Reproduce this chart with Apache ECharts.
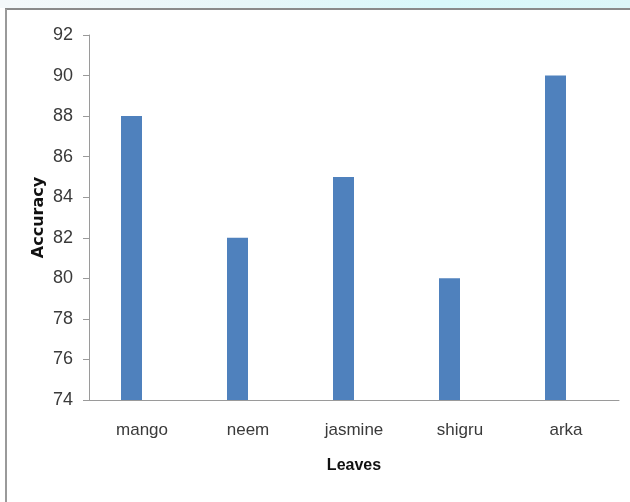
<!DOCTYPE html>
<html>
<head>
<meta charset="utf-8">
<script src="https://cdn.jsdelivr.net/npm/echarts@6/dist/echarts.min.js"></script>
<style>
  html, body { margin: 0; padding: 0; background: #fff; }
  #chart { width: 630px; height: 502px; }
</style>
</head>
<body>
<div id="chart"></div>
<script>
// Leaf categories and classification accuracy (%)
const leaves = ['mango', 'neem', 'jasmine', 'shigru', 'arka'];
const accuracy = [88, 82, 85, 80, 90];
const yTicks = { min: 74, max: 92, step: 2 };

const chart = echarts.init(document.getElementById('chart'), null, { renderer: 'canvas' });

const tickFont = '"Liberation Sans", Arial, sans-serif';
const axisGray = '#9a9a9a';

chart.setOption({
  backgroundColor: '#ffffff',
  animation: false,
  graphic: [
    {
      type: 'rect',
      shape: { x: 0, y: 0, width: 630, height: 8 },
      style: {
        fill: new echarts.graphic.LinearGradient(0, 0, 1, 0, [
          { offset: 0, color: '#f4f8fa' },
          { offset: 0.4, color: '#e6f6f8' },
          { offset: 0.7, color: '#d8f8fa' },
          { offset: 1, color: '#dcf6f8' }
        ])
      },
      silent: true
    },
    {
      type: 'line',
      shape: { x1: 5, y1: 9, x2: 630, y2: 9 },
      style: { stroke: '#8a8a8a', lineWidth: 2 },
      silent: true
    },
    {
      type: 'line',
      shape: { x1: 6, y1: 9, x2: 6, y2: 502 },
      style: { stroke: '#9a9a9a', lineWidth: 2 },
      silent: true
    }
  ],
  grid: [
    // axes, tick labels and titles
    { left: 89, top: 35, right: 11, bottom: 102, containLabel: false },
    // bars sit slightly left of the label slots
    { left: 78.5, top: 35, right: 21.5, bottom: 102, containLabel: false }
  ],
  xAxis: [
    {
      type: 'category',
      gridIndex: 0,
      data: leaves,
      name: 'Leaves',
      nameLocation: 'middle',
      nameGap: 58,
      nameMoveOverlap: false,
      nameTextStyle: {
        fontFamily: tickFont,
        fontWeight: 'bold',
        fontSize: 16,
        color: '#111'
      },
      axisLine: { lineStyle: { color: axisGray, width: 1 } },
      axisTick: { show: false },
      axisLabel: {
        fontFamily: tickFont,
        fontSize: 17,
        color: '#3a3a3a',
        margin: 22
      }
    },
    {
      type: 'category',
      gridIndex: 1,
      data: leaves,
      show: false
    }
  ],
  yAxis: [
    {
      type: 'value',
      gridIndex: 0,
      min: yTicks.min,
      max: yTicks.max,
      interval: yTicks.step,
      name: 'Accuracy',
      nameLocation: 'middle',
      nameGap: 42,
      nameMoveOverlap: false,
      nameRotate: 90,
      nameTextStyle: {
        fontFamily: '"DejaVu Sans", sans-serif',
        fontWeight: 'bold',
        fontSize: 16,
        color: '#111'
      },
      splitLine: { show: false },
      axisLine: { show: true, lineStyle: { color: axisGray, width: 1 } },
      axisTick: { show: true, length: 6, lineStyle: { color: axisGray } },
      axisLabel: {
        fontFamily: tickFont,
        fontSize: 18,
        color: '#3a3a3a',
        margin: 16
      }
    },
    {
      type: 'value',
      gridIndex: 1,
      min: yTicks.min,
      max: yTicks.max,
      interval: yTicks.step,
      show: false,
      splitLine: { show: false }
    }
  ],
  series: [
    {
      type: 'bar',
      xAxisIndex: 1,
      yAxisIndex: 1,
      data: accuracy,
      barWidth: 21,
      itemStyle: { color: '#4f81bd' }
    }
  ]
});
</script>
</body>
</html>
